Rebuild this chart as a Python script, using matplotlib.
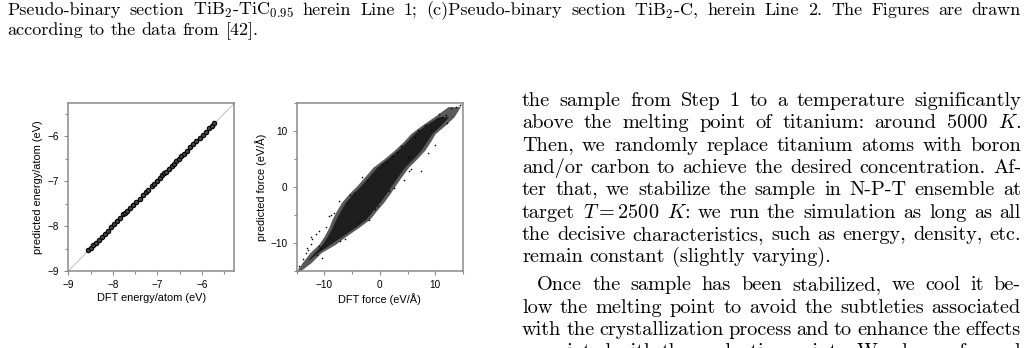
import matplotlib
matplotlib.use("Agg")
import matplotlib.pyplot as plt
from matplotlib.ticker import MultipleLocator

plt.rcParams["mathtext.fontset"] = "cm"

W, H = 1028, 348

# energy panel: DFT vs predicted energy per atom (eV)
energy_dft = [-8.55, -8.50, -8.44, -8.38, -8.31, -8.25, -8.18, -8.11, -8.04, -7.97,
              -7.90, -7.83, -7.77, -7.73, -7.68, -7.61, -7.54, -7.47, -7.40, -7.33,
              -7.26, -7.20, -7.13, -7.07, -7.01, -6.95, -6.89, -6.84, -6.80, -6.74,
              -6.67, -6.62, -6.58, -6.52, -6.46, -6.40, -6.33, -6.26, -6.19, -6.12,
              -6.05, -5.98, -5.91, -5.84, -5.78, -5.72]
energy_pred = [-8.54, -8.49, -8.43, -8.37, -8.30, -8.24, -8.17, -8.10, -8.03, -7.96,
               -7.89, -7.82, -7.74, -7.72, -7.66, -7.60, -7.53, -7.46, -7.39, -7.32,
               -7.25, -7.19, -7.12, -7.06, -7.00, -6.94, -6.87, -6.81, -6.79, -6.73,
               -6.66, -6.63, -6.56, -6.51, -6.45, -6.39, -6.32, -6.25, -6.18, -6.11,
               -6.04, -5.97, -5.90, -5.83, -5.77, -5.71]

# force panel: edges of the point cloud (eV/A)
cloud_y = [-15.0, -13.5, -11.7, -10.2, -8.7, -7.2, -5.7, -4.2, -2.7, -1.2,
           0.3, 2.0, 3.6, 5.1, 6.6, 8.1, 9.6, 11.1, 12.6, 14.4]
cloud_xlo = [-15.0, -14.0, -12.6, -11.0, -10.0, -9.2, -8.6, -7.8, -6.9, -5.6,
             -4.1, -2.6, -1.2, 0.8, 2.6, 4.2, 5.6, 7.6, 9.8, 12.3]
cloud_xhi = [-14.4, -12.4, -10.6, -8.0, -6.0, -3.8, -1.8, -0.6, 0.7, 1.8,
             2.8, 4.0, 5.2, 6.7, 8.1, 9.1, 10.0, 11.8, 13.4, 14.5]
core_y = [-13.0, -11.7, -10.2, -8.7, -7.2, -5.7, -4.2, -2.7, -1.2,
          0.3, 2.0, 3.6, 5.1, 6.6, 8.1, 9.6, 11.1, 12.6]
core_xlo = [-13.0, -11.8, -10.4, -9.4, -8.6, -7.9, -7.1, -6.2, -4.9,
            -3.4, -1.9, -0.5, 1.4, 3.2, 4.8, 6.2, 8.2, 10.6]
core_xhi = [-12.8, -11.2, -9.0, -6.7, -4.5, -2.5, -1.3, 0.0, 1.1,
            2.1, 3.3, 4.5, 6.0, 7.4, 8.4, 9.4, 11.0, 12.4]
stray_x = [7.5, 5.1, 0.4, 3.1, 8.1, 9.3, 12.9, 14.4, 9.9, 5.6, 1.7, -12.2, -9.2,
           -6.2, -13.4, -14.6, -10.4, -0.85, -7.4, -12.5, -11.0, -10.9, -12.4,
           -10.6, 13.8, 11.2, 6.4, -3.2, -13.9, -8.3, 10.6, 12.2, -4.6, 2.2,
           -11.6, -13.1, 4.4, -1.9, -9.8, -8.9, -5.3, -2.4, 1.1, 3.9, 6.9,
           10.3, 11.9, -7.1, -4.0, -0.3, 2.6, 5.2, 8.6, -12.9, -11.4]
stray_y = [2.9, 5.4, 4.2, 6.3, 11.1, 10.2, 14.1, 14.7, 7.5, 3.3, -0.6, -9.3, -5.1,
           -9.3, -11.7, -14.1, -12.6, -3.9, -2.4, -10.2, -10.5, -7.8, -9.0,
           -10.8, 14.4, 12.6, 8.9, 1.9, -12.9, -4.6, 13.0, 11.4, -1.0, 5.6,
           -8.4, -10.9, 1.2, -5.8, -7.2, -4.9, -1.4, 1.3, 4.5, 7.4, 10.3,
           12.2, 12.9, -9.6, -6.2, -3.3, -0.2, 2.9, 6.1, -11.3, -12.2]

caption_lines = [
    ["Pseudo-binary", "section", r"TiB$_2$-TiC$_{0.95}$", "herein", "Line", "1;",
     "(c)Pseudo-binary", "section", r"TiB$_2$-C,", "herein", "Line", "2.", "The",
     "Figures", "are", "drawn"],
    ["according", "to", "the", "data", "from", "[42]."],
]
body_lines = [
    "the sample from Step 1 to a temperature significantly",
    r"above the melting point of titanium: around 5000 $K$.",
    "Then, we randomly replace titanium atoms with boron",
    "and/or carbon to achieve the desired concentration. Af-",
    "ter that, we stabilize the sample in N-P-T ensemble at",
    r"target $T=2500$ $K$: we run the simulation as long as all",
    "the decisive characteristics, such as energy, density, etc.",
    "remain constant (slightly varying).",
    "Once the sample has been stabilized, we cool it be-",
    "low the melting point to avoid the subtleties associated",
    "with the crystallization process and to enhance the effects",
    "associated with the nucleation points. We also performed",
]
body_base = [106, 128.3, 150.6, 172.9, 195.2, 217.5, 239.8, 262.1,
             290.3, 312.6, 334.9, 357.2]
body_x0 = [522, 522, 522, 522, 522, 522, 522, 522, 537, 522, 522, 522]
body_just = [True] * 7 + [False] + [True] * 4

fig = plt.figure(figsize=(W / 100, H / 100), dpi=100)
renderer = fig.canvas.get_renderer()


def put_line(words, x0, x1, ybase, justify, fs):
    texts = [fig.text(0, 0, w, fontsize=fs, family="cmr10", va="baseline")
             for w in words]
    widths = [t.get_window_extent(renderer).width for t in texts]
    space = fs * 100 / 72 * 0.333
    if justify and len(words) > 1:
        space = (x1 - x0 - sum(widths)) / (len(words) - 1)
    x = x0
    for t, w in zip(texts, widths):
        t.set_position((x / W, 1 - ybase / H))
        x += w + space


put_line(caption_lines[0], 7, 1021, 15, True, 13.0)
put_line(caption_lines[1], 7, 1021, 35, False, 13.0)
for line, y, x0, j in zip(body_lines, body_base, body_x0, body_just):
    put_line(line.split(" "), x0, 1021, y, j, 14.6)

spine_col = "#8a8a8a"


def style(ax):
    for s in ax.spines.values():
        s.set_color(spine_col)
        s.set_linewidth(1.1)
    ax.tick_params(which="both", direction="out", colors=spine_col,
                   labelcolor="black", labelsize=7.2, width=0.8,
                   top=False, right=False)
    ax.tick_params(which="major", length=3)
    ax.tick_params(which="minor", length=2)
    for lab in ax.get_xticklabels() + ax.get_yticklabels():
        lab.set_family("Liberation Sans")


ax1 = fig.add_axes([68.3 / W, 1 - 271 / H, 166 / W, 167.7 / H])
ax1.axline((-9, -9), slope=1, color="#c8c8c8", lw=0.8, zorder=1)
ax1.scatter(energy_dft, energy_pred, s=10, facecolor="#444444",
            edgecolor="black", linewidths=0.8, zorder=2)
ax1.set_xlim(-9, -5.27)
ax1.set_ylim(-9, -5.27)
ax1.xaxis.set_major_locator(MultipleLocator(1))
ax1.yaxis.set_major_locator(MultipleLocator(1))
ax1.xaxis.set_minor_locator(MultipleLocator(0.5))
ax1.yaxis.set_minor_locator(MultipleLocator(0.5))
ax1.set_xlabel("DFT energy/atom (eV)", fontsize=7.9, family="Liberation Sans")
ax1.set_ylabel("predicted energy/atom (eV)", fontsize=7.9,
               family="Liberation Sans")
ax1.xaxis.set_label_coords(0.5, -0.13)
ax1.yaxis.set_label_coords(-0.155, 0.5)
style(ax1)

ax2 = fig.add_axes([296.7 / W, 1 - 271 / H, 166.3 / W, 167.7 / H])
ax2.axline((0, 0), slope=1, color="#c8c8c8", lw=0.8, zorder=1)
ax2.fill_betweenx(cloud_y, cloud_xlo, cloud_xhi, color="#5a5a5a", lw=0, zorder=2)
ax2.fill_betweenx(core_y, core_xlo, core_xhi, color="#1e1e1e", lw=0, zorder=3)
ax2.scatter(stray_x, stray_y, s=1.3, color="black", lw=0, zorder=4)
ax2.set_xlim(-15, 15)
ax2.set_ylim(-15, 15)
ax2.xaxis.set_major_locator(MultipleLocator(10))
ax2.yaxis.set_major_locator(MultipleLocator(10))
ax2.xaxis.set_minor_locator(MultipleLocator(5))
ax2.yaxis.set_minor_locator(MultipleLocator(5))
ax2.set_xlabel("DFT force (eV/Å)", fontsize=7.9, family="Liberation Sans")
ax2.set_ylabel("predicted force (eV/Å)", fontsize=7.9, family="Liberation Sans")
ax2.xaxis.set_label_coords(0.5, -0.13)
ax2.yaxis.set_label_coords(-0.18, 0.5)
style(ax2)

fig.savefig("out.png", dpi=100)
